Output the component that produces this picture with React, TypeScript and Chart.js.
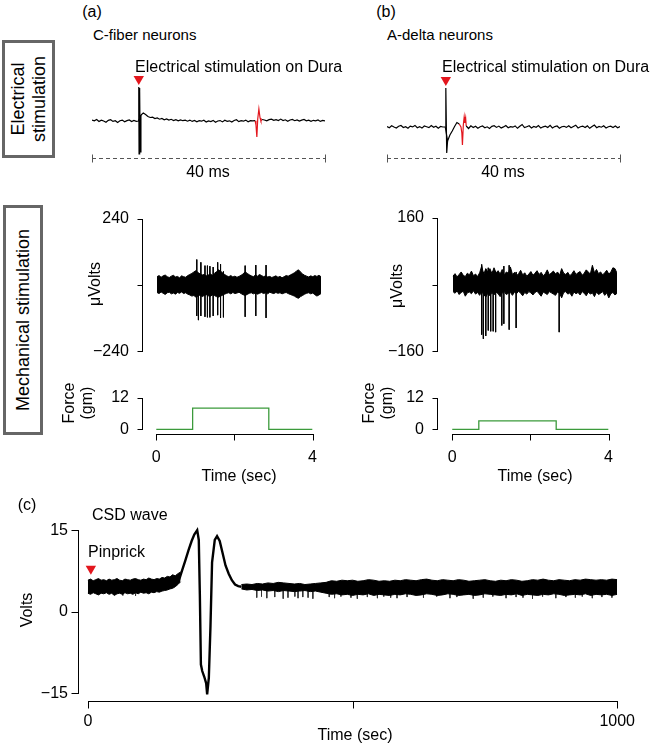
import React, { useEffect, useRef } from 'react';
import { Chart, registerables } from 'chart.js';

Chart.register(...registerables);

const FONT = '"Liberation Sans", Arial, Helvetica, sans-serif';
Chart.defaults.font.family = FONT;
Chart.defaults.font.size = 16;
Chart.defaults.color = '#000';

const RED = '#e3161d';
const GREEN = '#3b9a3b';

// ---------------- Electrical stimulation traces (ms, arbitrary amplitude) ----------------
const ELEC_DT = 0.4; // sampling interval of the traces (ms)
const elecA_v: (number | null)[] = [
  1.0, 0.2, 1.5, -0.5, 0.8, 0.0, -1.2, 0.6, 1.3, -0.4,
  0.3, -1.5, 0.2, 0.9, -0.8, 0.4, 1.1, -0.6, 0.5, -0.3,
  0.0, 6.0, 8.0, 6.5, 4.5, 3.5, 3.8, 2.4, 3.0, 1.8,
  2.6, 1.2, 2.0, 0.9, 1.7, 0.5, 1.4, 0.2, 1.1, 0.3,
  0.8, -0.2, 0.9, -0.4, 0.5, -0.8, 0.3, -0.2, 0.7, -1.0,
  0.1, -0.5, 0.6, -1.2, 0.0, 0.4, -0.9, 0.8, -0.3, 0.2,
  -1.1, 0.5, 1.3, -0.6, 0.3, -0.2, 0.9, -0.7, 0.4, 0.1,
  0.3, null, null, 1.5, 1.0, 0.2, 1.4, 1.8, 0.6, 1.3,
  0.4, 1.9, 0.5, 1.2, -0.2, 1.0, 1.6, 0.3, 1.1, -0.1,
  0.9, 1.5, 0.2, 0.8, -0.3, 0.7, 0.1, 1.0, -0.4, 0.6,
  0.2,
];
const artA_t = [8.0, 8.03, 8.08, 8.13, 8.18, 8.23, 8.28, 8.4];
const artA_v = [0, 34, -33, 33, -33, 30, -31, 6];
const redA_t = [28.0, 28.15, 28.3, 28.45, 28.65, 28.85, 29.0, 29.2];
const redA_v = [0.3, -4, -16, 2, 12, 3, 0, 1.5];
const stimA = { t: 8.03, v: 42 };

const elecB_v: (number | null)[] = [
  0.5, -0.8, 1.2, 0.0, -1.0, 0.7, 1.5, -0.5, 0.3, -1.3,
  0.9, 0.1, 1.6, -0.7, 0.4, -1.1, 1.0, 0.2, -0.6, 1.4,
  -0.3, 0.8, -1.2, 0.5, 0.0,
  0.0, -14, -8, -4, 0.5, 4.5, 3.0, null, null, 1.0, -1.5, 1.2,
  -0.5, 0.8, -1.2, 0.3, 1.0, -0.7, 0.2, -1.4, 0.6, 1.3,
  -0.4, 0.9, -1.0, 0.1, 1.5, -0.8, 0.4, -0.2, 1.1, -1.3,
  0.7, 2.5, -0.6, 0.3, 1.2, -0.9, 0.5, -0.3, 1.4, -1.1,
  0.2, 0.8, -0.5, 1.6, -0.9, 0.4, 1.0, -1.2, 0.3, 0.7,
  -0.4, 1.3, -0.8, 0.5, 1.8, -1.0, 0.2, 0.9, -0.6, 1.1,
  -1.3, 0.4, 2.0, -0.7, 0.6, -0.2, 1.2, -1.0, 0.3, 0.8,
  -0.5, 1.0, -0.8, 0.4,
];
const artB_t = [10.0, 10.1, 10.25, 10.4];
const artB_v = [0, 39, -26, -14];
const redB_t = [12.4, 12.7, 12.85, 12.95, 13.1, 13.25, 13.35, 13.5, 13.6];
const redB_v = [3.0, 0, -6, -18, 2, 10, 4, 9, 1.0];
const stimB = { t: 10.1, v: 47 };

// ---------------- Mechanical stimulation (sec, µV) ----------------
const MECH_DT = 0.05; // envelope bin (s)
const mechA_up = [
  30, 34, 28, 33, 36, 30, 27, 32, 35, 29,
  31, 26, 33, 30, 28, 34, 38, 42, 47, 52,
  45, 40, 36, 38, 33, 36, 40, 35, 42, 48,
  55, 50, 44, 38, 33, 30, 34, 29, 32, 28,
  31, 35, 40, 48, 42, 37, 33, 30, 36, 32,
  38, 34, 30, 33, 29, 31, 27, 30, 33, 28,
  31, 26, 30, 34, 32, 36, 40, 44, 50, 55,
  47, 40, 35, 32, 29, 33, 30, 34, 31, 35,
  30,
];
const mechA_lo = [
  -27, -31, -25, -30, -34, -28, -26, -32, -29, -33,
  -27, -30, -25, -31, -28, -33, -36, -40, -38, -44,
  -40, -36, -42, -38, -35, -39, -41, -36, -38, -42,
  -44, -40, -37, -33, -30, -28, -32, -27, -31, -29,
  -26, -31, -35, -38, -34, -30, -28, -32, -29, -33,
  -30, -27, -31, -28, -32, -26, -29, -31, -27, -30,
  -28, -32, -29, -27, -31, -34, -37, -40, -45, -48,
  -42, -38, -33, -30, -28, -32, -29, -35, -40, -36,
  -31,
];
const spikeA_t = [0.97, 1.01, 1.07, 1.17, 1.23, 1.29, 1.37, 1.48, 1.55, 1.62, 2.15, 2.41, 2.66];
const spikeA_hi = [92, 40, 82, 70, 70, 68, 65, 82, 75, 49, 70, 72, 72];
const spikeA_lo = [-112, -127, -112, -115, -117, -117, -112, -109, -119, -117, -115, -112, -119];
const forceA_t = [0, 0.93, 0.93, 2.88, 2.88, 4];
const forceA_v = [0, 0, 8, 8, 0, 0];

const mechB_up = [
  20, 26, 18, 24, 30, 22, 19, 27, 23, 32,
  21, 25, 19, 28, 44, 24, 38, 30, 38, 26,
  40, 28, 33, 25, 36, 22, 30, 27, 42, 24,
  29, 21, 26, 34, 23, 28, 20, 25, 31, 22,
  27, 33, 24, 29, 21, 26, 35, 23, 28, 32,
  25, 30, 22, 38, 27, 24, 29, 21, 26, 33,
  24, 28, 31, 22, 27, 35, 30, 25, 46, 28,
  36, 26, 30, 23, 28, 34, 25, 30, 40, 38,
  27,
];
const mechB_lo = [
  -17, -21, -15, -24, -19, -16, -28, -20, -18, -22,
  -15, -23, -19, -26, -17, -24, -30, -21, -27, -19,
  -25, -18, -22, -29, -20, -17, -24, -21, -19, -26,
  -18, -22, -16, -21, -27, -19, -23, -17, -20, -25,
  -19, -16, -22, -28, -18, -21, -24, -17, -20, -23,
  -26, -18, -21, -32, -19, -17, -23, -20, -28, -18,
  -22, -19, -25, -17, -21, -27, -18, -23, -20, -29,
  -18, -24, -21, -17, -26, -20, -32, -22, -19, -25,
  -21,
];
const spikeB_t = [0.70, 0.74, 0.80, 0.86, 0.92, 0.98, 1.04, 1.19, 1.24, 1.37, 1.54, 2.59];
const spikeB_hi = [48, 30, 35, 40, 28, 32, 30, 25, 44, 46, 30, 20];
const spikeB_lo = [-120, -130, -123, -110, -112, -112, -114, -98, -94, -108, -104, -114];
const forceB_t = [0, 0.68, 0.68, 2.66, 2.66, 4];
const forceB_v = [0, 0, 3.2, 3.2, 0, 0];

// ---------------- CSD wave (sec, Volts) ----------------
const PRE_DT = 5; // pre-wave envelope bin (s), starting at 0
const csdPre_up = [
  5.8, 6.0, 5.7, 5.9, 6.1, 5.8, 5.9, 5.7, 6.0, 5.8,
  5.9, 6.1, 5.8, 5.7, 6.0, 5.9, 5.8, 6.0, 6.1, 5.9,
  5.8, 6.0, 5.9, 6.2, 6.0, 5.9, 6.1, 6.0, 6.3, 6.2,
  6.5, 6.4, 6.8, 6.6, 7.0, 7.3,
];
const csdPre_lo = [
  3.4, 3.2, 3.5, 3.3, 3.1, 3.4, 3.3, 3.5, 3.2, 3.4,
  3.0, 3.3, 3.4, 3.2, 3.5, 3.3, 3.4, 3.2, 3.5, 3.3,
  3.6, 3.4, 3.5, 3.3, 3.6, 3.5, 3.7, 3.6, 3.8, 3.9,
  4.0, 4.2, 4.3, 4.6, 5.0, 5.5,
];
const csdWave_t = [165, 172, 178, 184, 190, 196, 201, 206.5, 209.5, 211.5, 213.5, 216, 220, 223.5, 225.3, 228.5, 231.6, 234.6, 239.7, 244, 249, 254, 260, 266, 272, 278, 284, 290];
const csdWave_v = [5.2, 5.8, 7.6, 9.4, 11.3, 13.0, 14.2, 15.0, 13.2, 3.2, -9.7, -10.9, -12.0, -13.2, -15.2, -12.1, -2.6, 9.1, 13.2, 13.9, 13.0, 11.0, 8.5, 7.0, 5.8, 5.0, 4.7, 4.6];
const POST_T0 = 290;
const POST_DT = 10;
const csdPost_up = [
  5.0, 5.1, 5.0, 5.2, 5.1, 5.3, 5.2, 5.4, 5.3, 5.2,
  5.1, 5.2, 5.0, 5.1, 5.2, 5.3, 5.4, 5.7, 5.6, 5.8,
  5.7, 5.8, 5.6, 5.7, 5.9, 5.8, 5.6, 5.7, 5.6, 5.8,
  5.7, 5.9, 5.8, 5.7, 5.9, 6.0, 5.8, 5.7, 5.9, 5.8,
  5.7, 5.9, 5.8, 5.6, 5.7, 5.8, 5.9, 5.7, 5.6, 5.8,
  5.7, 5.9, 5.8, 5.6, 5.7, 5.9, 5.8, 6.0, 5.8, 5.7,
  5.9, 5.8, 5.7, 5.9, 5.8, 6.0, 5.9, 5.8, 5.9, 5.8,
  6.0, 5.9,
];
const csdPost_lo = [
  4.2, 4.0, 4.1, 3.9, 4.0, 3.8, 3.9, 3.7, 3.9, 3.8,
  3.7, 3.8, 3.9, 3.7, 3.8, 3.6, 3.4, 3.2, 3.3, 3.1,
  3.2, 3.0, 3.2, 3.1, 3.3, 3.0, 3.2, 3.1, 3.0, 3.2,
  3.1, 3.3, 3.2, 3.0, 3.1, 3.3, 3.2, 3.0, 3.1, 3.3,
  3.2, 3.0, 3.1, 3.2, 3.0, 3.1, 3.3, 3.2, 3.1, 3.0,
  3.2, 3.1, 3.3, 3.0, 3.2, 3.1, 3.0, 3.2, 3.1, 3.3,
  3.2, 3.0, 3.1, 3.2, 3.1, 3.3, 3.0, 3.2, 3.1, 3.2,
  3.0, 3.2,
];
const C_SPIKE_FROM = 4.0;
const csdSpike_t = [
  66, 90, 319, 328, 338, 353, 369, 378, 391, 397,
  406, 416, 425, 456, 466, 478, 497, 509, 528, 547,
  559, 572, 584, 603, 634, 659, 684, 697, 728, 747,
  765, 790, 809, 822, 840, 859, 884, 903, 921, 934,
  953, 971, 990,
];
const csdSpike_lo = [
  3.0, 2.9, 2.6, 2.8, 2.5, 2.7, 2.4, 2.6, 2.8, 2.5,
  2.7, 2.6, 2.4, 2.7, 2.5, 2.8, 2.6, 2.4, 2.7, 2.5,
  2.8, 2.6, 2.5, 2.7, 2.6, 2.8, 2.5, 2.7, 2.4, 2.6,
  2.8, 2.5, 2.7, 2.6, 2.4, 2.8, 2.5, 2.7, 2.6, 2.8,
  2.5, 2.7, 2.6,
];
const pinprick = { t: 5.6, v: 7.9 };

// ---------------- helpers ----------------
const toXY = (ts: number[], vs: (number | null)[]) => ts.map((t, i) => ({ x: t, y: vs[i] }));
const sampled = (vs: (number | null)[], dt: number, t0 = 0) => vs.map((v, i) => ({ x: t0 + i * dt, y: v }));
const spikeSegs = (ts: number[], hi: number[], lo: number[]) => {
  const out: any[] = [];
  ts.forEach((t, i) => {
    out.push({ x: t, y: hi[i] }, { x: t, y: lo[i] }, { x: t, y: null });
  });
  return out;
};
const line = (data: any[], color: string, width: number, extra: any = {}) => ({
  data, borderColor: color, backgroundColor: color, borderWidth: width, pointRadius: 0, fill: false, tension: 0, spanGaps: false, ...extra,
});
const marker = (t: number, v: number) => ({
  data: [{ x: t, y: v }], showLine: false, pointStyle: 'triangle', pointRotation: 180, pointRadius: 6,
  pointBackgroundColor: RED, pointBorderColor: RED, pointBorderWidth: 0, clip: false,
});

function axisScale(min: number, max: number, ticks: number[], labels: string[] | null, padding: number) {
  return {
    type: 'linear', min, max, display: true,
    afterBuildTicks: (s: any) => { s.ticks = ticks.map((v) => ({ value: v })); },
    ticks: {
      display: !!labels, callback: (_v: any, i: number) => (labels ? labels[i] : ''), padding,
      autoSkip: false, maxRotation: 0, minRotation: 0, font: { size: 16, family: FONT }, color: '#000',
    },
    grid: { display: false, drawTicks: false },
    border: { display: false },
  };
}

// draws R-style axes: line from first to last tick, with tick marks
const rAxisPlugin = {
  id: 'rAxis',
  afterDraw(chart: any, _args: any, opts: any) {
    const axes = (opts && opts.axes) || [];
    const ctx = chart.ctx;
    for (const a of axes) {
      const s = chart.scales[a.id];
      if (!s || !s.ticks || !s.ticks.length) continue;
      const px = s.ticks.map((t: any) => Math.round(s.getPixelForValue(t.value)) + 0.5);
      const tout = a.tickOut ?? 5;
      const tin = a.tickIn ?? 0;
      const hor = s.isHorizontal();
      const pos = hor ? Math.round(s.top) + 0.5 : Math.round(s.right) + 0.5;
      ctx.save();
      ctx.strokeStyle = a.color || '#000';
      ctx.lineWidth = 1;
      ctx.setLineDash(a.dash || []);
      ctx.beginPath();
      const p0 = Math.min(...px) - 0.5;
      const p1 = Math.max(...px) + 0.5;
      if (hor) { ctx.moveTo(p0, pos); ctx.lineTo(p1, pos); } else { ctx.moveTo(pos, p0); ctx.lineTo(pos, p1); }
      ctx.stroke();
      ctx.setLineDash([]);
      ctx.beginPath();
      for (const p of px) {
        if (hor) { ctx.moveTo(p, pos - tin); ctx.lineTo(p, pos + tout); } else { ctx.moveTo(pos + tin, p); ctx.lineTo(pos - tout, p); }
      }
      ctx.stroke();
      ctx.restore();
    }
  },
};
Chart.register(rAxisPlugin as any);

type Rect = { l: number; t: number; r: number; b: number };

function Plot({ area, yW, xH, pad, make }: { area: Rect; yW: number; xH: number; pad: Rect; make: () => any }) {
  const ref = useRef<HTMLCanvasElement>(null);
  const left = area.l - yW - pad.l;
  const top = area.t - pad.t;
  const width = area.r + pad.r - left;
  const height = area.b + xH + pad.b - top;
  useEffect(() => {
    const cfg = make();
    const o = cfg.options;
    o.animation = false;
    o.responsive = false;
    o.maintainAspectRatio = false;
    o.devicePixelRatio = 1;
    o.events = [];
    o.layout = { padding: { left: pad.l, top: pad.t, right: pad.r, bottom: pad.b } };
    if (o.scales.x) o.scales.x.afterFit = (s: any) => { s.height = xH; };
    if (o.scales.y) o.scales.y.afterFit = (s: any) => { s.width = yW; };
    o.plugins = { legend: { display: false }, tooltip: { enabled: false }, ...(o.plugins || {}) };
    const chart = new Chart(ref.current as HTMLCanvasElement, cfg);
    return () => chart.destroy();
  }, []);
  return <canvas ref={ref} width={width} height={height} style={{ position: 'absolute', left, top, width, height }} />;
}

function T({ x, y, s = 16, a = 'l', r = false, lh, children }: any) {
  const tr = (a === 'c' ? 'translate(-50%,-50%)' : 'translate(0,-50%)') + (r ? ' rotate(-90deg)' : '');
  return (
    <div style={{ position: 'absolute', left: x, top: y, transform: tr, fontSize: s, lineHeight: lh ? lh + 'px' : 1, whiteSpace: 'nowrap', textAlign: 'center' }}>
      {children}
    </div>
  );
}

const elecChart = (vals: (number | null)[], at: number[], av: number[], rt: number[], rv: number[], stim: { t: number; v: number }, ymin: number, ymax: number) => () => ({
  type: 'line',
  data: {
    datasets: [
      line(sampled(vals, ELEC_DT), '#000', 1.2),
      line(toXY(at, av), '#000', 1.2),
      line(toXY(rt, rv), RED, 1.2),
      marker(stim.t, stim.v),
    ],
  },
  options: {
    scales: { x: axisScale(0, 40, [0, 40], null, 0), y: { type: 'linear', min: ymin, max: ymax, display: false } },
    plugins: { rAxis: { axes: [{ id: 'x', dash: [4, 3], color: '#555', tickIn: 4, tickOut: 4 }] } },
  },
});

const mechChart = (up: number[], lo: number[], st: number[], sh: number[], sl: number[], xmin: number, ylim: number) => () => ({
  type: 'line',
  data: {
    datasets: [
      line(sampled(up, MECH_DT), '#000', 1, { fill: '+1' }),
      line(sampled(lo, MECH_DT), '#000', 1),
      line(spikeSegs(st, sh, sl), '#000', 1),
    ],
  },
  options: {
    scales: {
      x: { type: 'linear', min: xmin, max: 4, display: false },
      y: axisScale(-ylim, ylim, [-ylim, 0, ylim], ['\u2212' + ylim, '', String(ylim)], 13),
    },
    plugins: { rAxis: { axes: [{ id: 'y', tickOut: 5 }] } },
  },
});

const forceChart = (ft: number[], fv: number[], xmin: number) => () => ({
  type: 'line',
  data: { datasets: [line(toXY(ft, fv), GREEN, 1.3)] },
  options: {
    scales: {
      x: axisScale(xmin, 4, [0, 2, 4], ['0', '', '4'], 14),
      y: axisScale(-1.756, 12, [0, 12], ['0', '12'], 13),
    },
    plugins: { rAxis: { axes: [{ id: 'y', tickOut: 5 }, { id: 'x', tickOut: 6 }] } },
  },
});

const csdChart = () => ({
  type: 'line',
  data: {
    datasets: [
      line(sampled(csdPre_up, PRE_DT), '#000', 1, { fill: '+1' }),
      line(sampled(csdPre_lo, PRE_DT), '#000', 1),
      line(sampled(csdPost_up, POST_DT, POST_T0), '#000', 1, { fill: '+1' }),
      line(sampled(csdPost_lo, POST_DT, POST_T0), '#000', 1),
      line(spikeSegs(csdSpike_t, csdSpike_t.map(() => C_SPIKE_FROM), csdSpike_lo), '#333', 1),
      line(toXY(csdWave_t, csdWave_v), '#000', 2.4),
      marker(pinprick.t, pinprick.v),
    ],
  },
  options: {
    scales: {
      x: axisScale(-18.7, 1000, [0, 500, 1000], ['0', '', '1000'], 11),
      y: axisScale(-16.41, 16.94, [-15, 0, 15], ['\u221215', '0', '15'], 10),
    },
    plugins: { rAxis: { axes: [{ id: 'y', tickOut: 7 }, { id: 'x', tickOut: 7 }] } },
  },
});

const boxStyle: any = { position: 'absolute', border: '3px solid #666', boxSizing: 'border-box' };
const inner: any = { position: 'absolute', left: '50%', top: '50%', transform: 'translate(-50%,-50%) rotate(-90deg)', whiteSpace: 'nowrap', textAlign: 'center', fontSize: 18, lineHeight: '21px' };

export default function App() {
  return (
    <div style={{ position: 'fixed', left: 0, top: 0, width: 650, height: 745, background: '#fff', overflow: 'hidden', fontFamily: FONT, color: '#000' }}>
      <Plot area={{ l: 92, t: 80, r: 325, b: 158 }} yW={0} xH={6} pad={{ l: 6, t: 14, r: 6, b: 4 }} make={elecChart(elecA_v, artA_t, artA_v, redA_t, redA_v, stimA, -37, 41)} />
      <Plot area={{ l: 387, t: 80, r: 620, b: 158 }} yW={0} xH={6} pad={{ l: 6, t: 14, r: 6, b: 4 }} make={elecChart(elecB_v, artB_t, artB_v, redB_t, redB_v, stimB, -31, 47)} />
      <Plot area={{ l: 142, t: 208, r: 321, b: 364 }} yW={55} xH={0} pad={{ l: 2, t: 12, r: 6, b: 10 }} make={mechChart(mechA_up, mechA_lo, spikeA_t, spikeA_hi, spikeA_lo, -0.366, 240)} />
      <Plot area={{ l: 437, t: 207, r: 617, b: 364 }} yW={55} xH={0} pad={{ l: 2, t: 12, r: 6, b: 10 }} make={mechChart(mechB_up, mechB_lo, spikeB_t, spikeB_hi, spikeB_lo, -0.39, 160)} />
      <Plot area={{ l: 142, t: 387, r: 321, b: 434 }} yW={55} xH={40} pad={{ l: 2, t: 12, r: 10, b: 2 }} make={forceChart(forceA_t, forceA_v, -0.366)} />
      <Plot area={{ l: 437, t: 387, r: 617, b: 434 }} yW={55} xH={40} pad={{ l: 2, t: 12, r: 10, b: 2 }} make={forceChart(forceB_t, forceB_v, -0.39)} />
      <Plot area={{ l: 78, t: 512, r: 622, b: 701 }} yW={60} xH={40} pad={{ l: 4, t: 12, r: 24, b: 4 }} make={csdChart} />

      <div style={{ ...boxStyle, left: 2, top: 40, width: 53, height: 118 }}>
        <div style={inner}>Electrical<br />stimulation</div>
      </div>
      <div style={{ ...boxStyle, left: 3, top: 205, width: 40, height: 230 }}>
        <div style={inner}>Mechanical stimulation</div>
      </div>

      <T x={92} y={12} a="c">(a)</T>
      <T x={386} y={12} a="c">(b)</T>
      <T x={93} y={34} s={15}>C-fiber neurons</T>
      <T x={387} y={34} s={15}>A-delta neurons</T>
      <T x={135} y={67}>Electrical stimulation on Dura</T>
      <T x={442} y={67}>Electrical stimulation on Dura</T>
      <T x={208} y={172} a="c">40 ms</T>
      <T x={503} y={172} a="c">40 ms</T>

      <T x={95} y={284} a="c" r>μVolts</T>
      <T x={397} y={286} a="c" r>μVolts</T>
      <T x={78} y={403} a="c" r lh={18}>Force<br />(gm)</T>
      <T x={378} y={403} a="c" r lh={18}>Force<br />(gm)</T>
      <T x={239} y={476} a="c">Time (sec)</T>
      <T x={535} y={476} a="c">Time (sec)</T>

      <T x={27} y={505} a="c">(c)</T>
      <T x={92} y={515}>CSD wave</T>
      <T x={88} y={552}>Pinprick</T>
      <T x={27} y={610} a="c" r>Volts</T>
      <T x={355} y={735} a="c">Time (sec)</T>
    </div>
  );
}
